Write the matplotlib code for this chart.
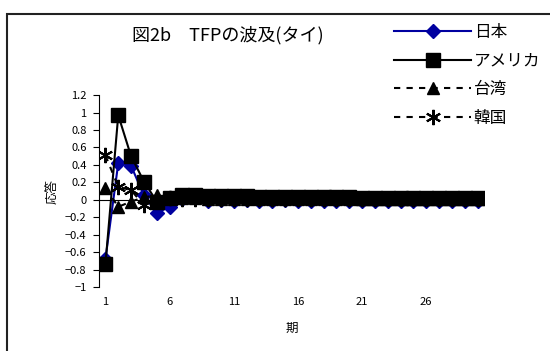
import matplotlib.pyplot as plt
from matplotlib.patches import Rectangle

plt.rcParams['font.family'] = ['Noto Sans CJK JP', 'DejaVu Sans']

# impulse responses, periods 1..30
periods = list(range(1, 31))
japan = [-0.68, 0.42, 0.39, 0.05, -0.15, -0.08, 0.01, 0.02, -0.01, 0.0,
         -0.01, 0.0, -0.01, -0.01, 0.0, -0.01, -0.01, -0.01, -0.01, -0.01,
         -0.01, -0.01, -0.01, -0.01, -0.01, -0.01, -0.01, -0.01, -0.01, -0.01]
usa = [-0.74, 0.97, 0.50, 0.21, -0.02, 0.02, 0.05, 0.05, 0.04, 0.04,
       0.04, 0.04, 0.03, 0.03, 0.03, 0.03, 0.03, 0.03, 0.03, 0.03,
       0.02, 0.02, 0.02, 0.02, 0.02, 0.02, 0.02, 0.02, 0.02, 0.02]
taiwan = [0.14, -0.08, -0.02, 0.03, 0.05, 0.02, 0.02, 0.02, 0.01, 0.01,
          0.01, 0.01, 0.01, 0.01, 0.01, 0.01, 0.01, 0.01, 0.01, 0.01,
          0.01, 0.01, 0.01, 0.01, 0.01, 0.01, 0.01, 0.01, 0.01, 0.01]
korea = [0.51, 0.15, 0.11, -0.06, 0.0, 0.02, 0.01, 0.01, 0.01, 0.01,
         0.01, 0.01, 0.01, 0.01, 0.01, 0.01, 0.01, 0.01, 0.01, 0.01,
         0.01, 0.01, 0.01, 0.01, 0.01, 0.01, 0.01, 0.01, 0.01, 0.01]
names = ["日本", "アメリカ", "台湾", "韓国"]
xticks = [1, 6, 11, 16, 21, 26]
yticks = [-1, -0.8, -0.6, -0.4, -0.2, 0, 0.2, 0.4, 0.6, 0.8, 1, 1.2]

fig = plt.figure(figsize=(5.5, 3.51), dpi=100)
fig.patches.append(Rectangle((7 / 550, -0.1), 1.2, 1 - 14 / 351 + 0.1,
                             transform=fig.transFigure, fill=False,
                             edgecolor="#222222", linewidth=1.5))
ax = fig.add_axes([0.18, 0.182, 0.70, 0.547])

ax.plot(periods, japan, color="#0000A0", marker="D", markersize=7, lw=1.5,
        label=names[0])
ax.plot(periods, usa, color="black", marker="s", markersize=10, lw=1.5,
        label=names[1])
ax.plot(periods, taiwan, color="black", marker="^", markersize=9, lw=1.5,
        ls=(0, (3, 3)), label=names[2])
ax.plot(periods, korea, color="black", marker=(6, 2, 0), markersize=11,
        mew=1.5, lw=1.5, ls=(0, (3, 3)), label=names[3])

ax.set_xlim(0.5, 30.5)
ax.set_ylim(-1, 1.2)
ax.set_yticks(yticks)
ax.set_yticklabels(["−1", "−0.8", "−0.6", "−0.4", "−0.2", "0", "0.2", "0.4",
                    "0.6", "0.8", "1", "1.2"], fontsize=8)
ax.set_xticks(xticks)
ax.set_xticklabels([str(t) for t in xticks], fontsize=8)
ax.tick_params(axis="x", length=0, pad=7)
ax.tick_params(axis="y", length=4, width=0.8, direction="out", pad=5)
for s in ["top", "right", "bottom"]:
    ax.spines[s].set_visible(False)
ax.axhline(0, color="black", lw=0.8, zorder=0)
ax.set_ylabel("応答", fontsize=9, labelpad=5)
ax.set_xlabel("期", fontsize=9, labelpad=11)

fig.text(0.415, 0.9, "図2b　TFPの波及(タイ)", fontsize=13, ha="center",
         va="center")
fig.legend(loc="upper left", bbox_to_anchor=(0.69, 0.975), frameon=False,
           fontsize=12, handlelength=4.6, handletextpad=0.15,
           labelspacing=0.7)

fig.savefig("out.png")
